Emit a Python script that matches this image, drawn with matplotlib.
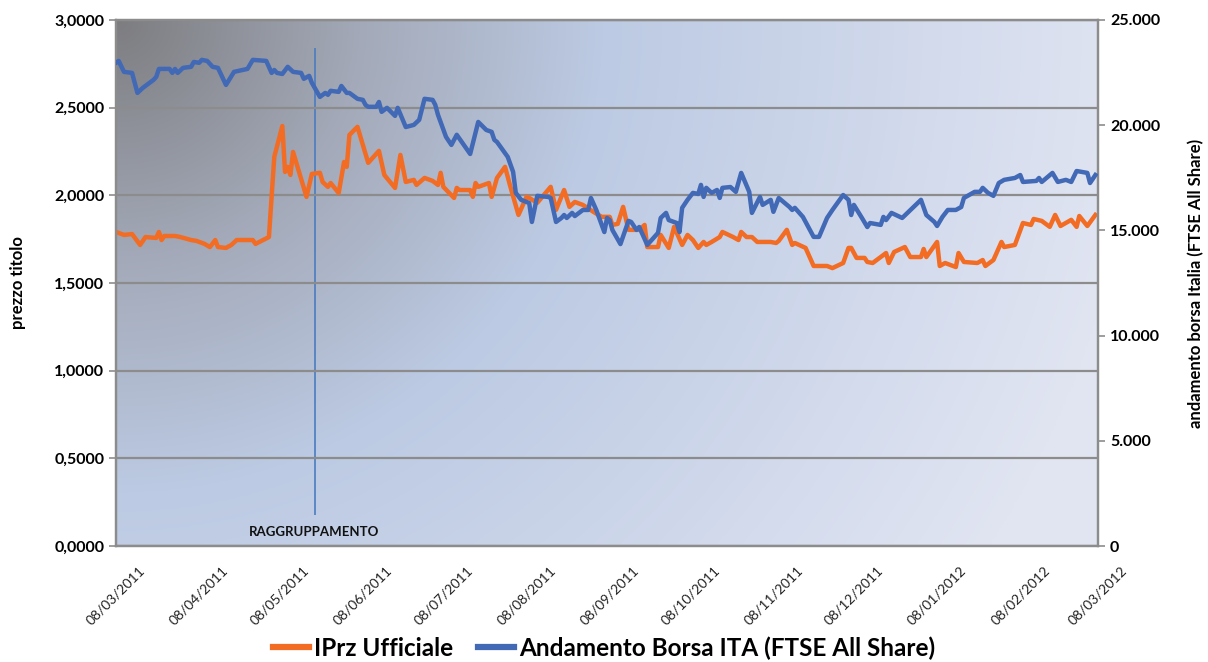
import numpy as np
import pandas as pd
import matplotlib
matplotlib.use("Agg")
import matplotlib.pyplot as plt
import matplotlib.dates as mdates
from matplotlib.ticker import FuncFormatter, MultipleLocator
from matplotlib.colors import to_rgb

plt.rcParams['font.family'] = ['Lato', 'DejaVu Sans']

# ── Data (days since 08/03/2011) ──────────────────────────────────────────────
START = pd.Timestamp("2011-03-08")
END = pd.Timestamp("2012-03-08")

prz_days = [0, 3, 6, 9, 11, 15, 16, 17, 18, 22, 24, 28, 30, 33, 35, 37, 38, 41, 43, 45,
            51, 52, 57, 59, 62, 63, 64, 65, 66, 71, 73, 76, 77, 79, 80, 83, 85, 86, 87, 90,
            94, 98, 100, 104, 106, 108, 111, 112, 115, 118, 120, 121, 122, 126, 127, 128, 132, 133, 134, 135,
            139, 140, 142, 145, 147, 150, 153, 154, 157, 162, 164, 167, 169, 171, 174, 178, 181, 184, 185, 187,
            189, 191, 195, 197, 198, 202, 203, 206, 208, 211, 213, 215, 217, 219, 220, 222, 225, 226, 230, 232,
            233, 235, 237, 239, 244, 246, 247, 250, 252, 253, 257, 260, 265, 267, 271, 273, 274, 276, 279, 280,
            282, 287, 288, 290, 294, 296, 300, 301, 302, 306, 307, 309, 313, 314, 316, 321, 323, 324, 327, 330,
            331, 335, 338, 341, 342, 345, 348, 350, 352, 356, 358, 359, 362, 365]
prz_values = [1.791, 1.774, 1.779, 1.717, 1.762, 1.757, 1.791, 1.745, 1.768, 1.768, 1.762, 1.745, 1.740, 1.723, 1.705, 1.745, 1.705, 1.700, 1.717, 1.745,
              1.745, 1.723, 1.762, 2.219, 2.395, 2.133, 2.162, 2.116, 2.247, 1.991, 2.122, 2.128, 2.076, 2.048, 2.070, 2.013, 2.190, 2.162, 2.344, 2.390,
              2.185, 2.253, 2.116, 2.042, 2.230, 2.076, 2.088, 2.059, 2.099, 2.082, 2.059, 2.128, 2.048, 1.985, 2.042, 2.030, 2.030, 1.991, 2.070, 2.048,
              2.070, 1.991, 2.099, 2.162, 2.048, 1.888, 1.991, 1.985, 1.957, 2.048, 1.917, 2.030, 1.934, 1.962, 1.945, 1.905, 1.877, 1.877, 1.831, 1.837,
              1.934, 1.803, 1.803, 1.831, 1.705, 1.705, 1.774, 1.700, 1.820, 1.717, 1.774, 1.745, 1.700, 1.734, 1.717, 1.734, 1.762, 1.791, 1.762, 1.745,
              1.791, 1.762, 1.762, 1.734, 1.734, 1.728, 1.740, 1.803, 1.717, 1.728, 1.700, 1.597, 1.597, 1.585, 1.614, 1.700, 1.700, 1.643, 1.643, 1.620,
              1.614, 1.671, 1.614, 1.677, 1.705, 1.648, 1.648, 1.694, 1.648, 1.734, 1.597, 1.614, 1.591, 1.671, 1.620, 1.614, 1.631, 1.597, 1.631, 1.734,
              1.705, 1.717, 1.842, 1.831, 1.865, 1.854, 1.820, 1.888, 1.825, 1.860, 1.820, 1.882, 1.825, 1.888]

ftse_days = [0, 1, 3, 6, 8, 10, 14, 15, 16, 20, 21, 22, 23, 25, 28, 29, 31, 32, 34, 36,
             38, 41, 44, 49, 51, 56, 58, 59, 60, 62, 64, 66, 69, 70, 72, 73, 76, 78, 79, 80,
             83, 84, 86, 87, 90, 92, 93, 94, 97, 98, 99, 101, 104, 105, 108, 111, 113, 115, 118, 119,
             120, 123, 125, 127, 132, 135, 138, 140, 141, 142, 146, 148, 149, 151, 153, 154, 155, 157, 161, 162,
             164, 166, 167, 168, 170, 171, 174, 176, 177, 179, 182, 183, 184, 185, 188, 191, 192, 194, 195, 198,
             202, 203, 205, 206, 209, 210, 211, 213, 215, 217, 218, 219, 220, 222, 224, 225, 226, 229, 231, 233,
             236, 237, 240, 241, 244, 245, 247, 251, 252, 253, 256, 260, 262, 265, 267, 271, 273, 274, 275, 278,
             280, 281, 285, 286, 287, 289, 293, 300, 302, 305, 306, 308, 310, 313, 315, 316, 320, 322, 323, 325,
             327, 329, 331, 335, 337, 338, 343, 344, 345, 349, 351, 354, 356, 358, 362, 363, 365]
ftse_values = [22960, 23050, 22530, 22480, 21530, 21770, 22150, 22290, 22670, 22670, 22480, 22670, 22480, 22720, 22770, 23000, 22960, 23100, 23050, 22770,
               22720, 21910, 22530, 22670, 23100, 23050, 22480, 22620, 22480, 22430, 22770, 22530, 22480, 22200, 22340, 22010, 21340, 21530, 21440, 21630,
               21580, 21860, 21530, 21530, 21250, 21200, 20960, 20870, 20870, 21100, 20630, 20820, 20440, 20820, 19910, 20010, 20250, 21250, 21200, 20960,
               20490, 19440, 19060, 19540, 18630, 20150, 19770, 19680, 19300, 19200, 18490, 17780, 16780, 16450, 16350, 16300, 15400, 16640, 16590, 16540,
               15400, 15590, 15730, 15590, 15830, 15680, 15970, 15970, 16540, 15970, 14920, 15590, 15490, 15020, 14350, 15450, 15400, 15020, 15160, 14310,
               14880, 15590, 15830, 15490, 15350, 14920, 16070, 16450, 16780, 16730, 17160, 16590, 17020, 16780, 16920, 16540, 17020, 17060, 16830, 17730,
               16830, 15830, 16590, 16210, 16450, 15880, 16540, 16110, 15970, 16070, 15640, 14690, 14690, 15590, 15970, 16680, 16450, 15730, 16210, 15590,
               15160, 15350, 15260, 15640, 15490, 15830, 15590, 16450, 15730, 15400, 15210, 15640, 15970, 15970, 16110, 16540, 16830, 16830, 17020, 16780,
               16640, 17250, 17400, 17490, 17630, 17300, 17350, 17490, 17300, 17730, 17300, 17400, 17300, 17820, 17730, 17250, 17630]

# regrouping marker (date, vertical span on the left axis)
RAGG_DATE = pd.Timestamp("2011-05-21")
RAGG_SPAN = (0.18, 2.84)
RAGG_LABEL_Y = 0.08

prz_dates = START + pd.to_timedelta(prz_days, unit="D")
ftse_dates = START + pd.to_timedelta(ftse_days, unit="D")

ORANGE = "#F36C24"
BLUE = "#4169B6"
GRID = "#8C8C8C"

# ── Figure ────────────────────────────────────────────────────────────────────
fig = plt.figure(figsize=(12.08, 6.62), dpi=100)
ax = fig.add_axes([0.096, 0.175, 0.813, 0.795])
ax2 = ax.twinx()

# background gradient (dark grey top-left -> light blue)
h, w = 200, 400
xx, yy = np.meshgrid(np.linspace(0, 1, w), np.linspace(1, 0, h))
t = np.sqrt((xx / 0.55) ** 2 + ((1 - yy) / 1.0) ** 2)
stops = [(0.0, "#7d7d80"), (0.45, "#a3a9b8"), (0.9, "#bccae3"), (1.9, "#e1e5f2")]
pos = [s[0] for s in stops]
cols = np.array([to_rgb(s[1]) for s in stops])
img = np.stack([np.interp(t, pos, cols[:, k]) for k in range(3)], axis=-1)
ax.imshow(img, extent=[0, 1, 0, 1], transform=ax.transAxes, aspect="auto", zorder=0)

ax.plot(prz_dates, prz_values, color=ORANGE, lw=3.2, zorder=3, label="IPrz Ufficiale")
ax2.plot(ftse_dates, ftse_values, color=BLUE, lw=3.2, zorder=3,
         label="Andamento Borsa ITA (FTSE All Share)")

ax.vlines(RAGG_DATE, *RAGG_SPAN, color="#4a7cc0", lw=1.2, zorder=2)
ax.text(RAGG_DATE, RAGG_LABEL_Y, "RAGGRUPPAMENTO", ha="center", va="center",
        fontsize=9.5, fontweight="bold", color="#111111", zorder=4)

ax.set_xlim(START, END)
ax.set_ylim(0, 3)
ax2.set_ylim(0, 25000)

ax.yaxis.set_major_locator(MultipleLocator(0.5))
ax2.yaxis.set_major_locator(MultipleLocator(5000))
ax.yaxis.set_major_formatter(FuncFormatter(lambda v, p: f"{v:.4f}".replace(".", ",")))
ax2.yaxis.set_major_formatter(FuncFormatter(lambda v, p: f"{int(v):,}".replace(",", ".")))

month_ticks = pd.date_range(START, END, freq=pd.DateOffset(months=1))
ax.set_xticks(month_ticks)
ax.xaxis.set_major_formatter(mdates.DateFormatter("%d/%m/%Y"))
ax.tick_params(axis="x", colors=GRID, length=0, labelcolor="#222222", pad=13,
               labelrotation=45, labelsize=10)
plt.setp(ax.get_xticklabels(), ha="center", va="top")

ax.grid(axis="y", color=GRID, lw=1.6, zorder=1)
ax.set_axisbelow(False)
for a in (ax, ax2):
    for s in a.spines.values():
        s.set_color(GRID)
        s.set_linewidth(1.6)
ax.tick_params(axis="y", colors=GRID, length=5, width=1.2, labelcolor="black", labelsize=11.5)
ax2.tick_params(axis="y", colors=GRID, length=5, width=1.2, labelcolor="black", labelsize=11.5)
for lab in ax.get_yticklabels() + ax2.get_yticklabels():
    lab.set_fontweight("bold")

ax.set_ylabel("prezzo titolo", fontsize=12, fontweight="bold", labelpad=20)
ax2.set_ylabel("andamento borsa Italia (FTSE All Share)", fontsize=12, fontweight="bold", labelpad=20)

h1, l1 = ax.get_legend_handles_labels()
h2, l2 = ax2.get_legend_handles_labels()
leg = fig.legend(h1 + h2, l1 + l2, loc="lower center", bbox_to_anchor=(0.5, -0.03), ncol=2,
                 frameon=False, prop={"size": 17.5, "weight": "bold"}, handlelength=1.5,
                 handletextpad=0.2, columnspacing=1.0)
for line in leg.get_lines():
    line.set_linewidth(4.5)

fig.savefig("out.png", dpi=100, facecolor="white")
